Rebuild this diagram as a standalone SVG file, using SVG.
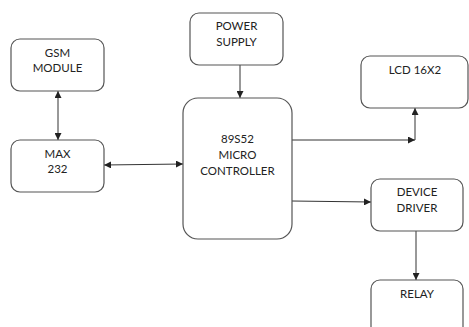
<svg xmlns="http://www.w3.org/2000/svg" width="469" height="327" viewBox="0 0 469 327">
<style>
.box{fill:#fff;stroke:#555;stroke-width:1.2}
.t{font-family:Lato,"Open Sans","Liberation Sans",sans-serif;font-size:11.5px;fill:#222;text-anchor:middle}
.c{fill:none;stroke:#333;stroke-width:1}
</style>
<defs>
<marker id="ah" viewBox="0 0 10 10" refX="10" refY="5" markerWidth="7" markerHeight="7" orient="auto-start-reverse" markerUnits="userSpaceOnUse">
<path d="M0,0 L10,5 L0,10 z" fill="#222"/>
</marker>
</defs>
<rect width="469" height="327" fill="#fff"/>
<g id="connectors">
<line class="c" x1="58" y1="91" x2="58" y2="140" marker-start="url(#ah)" marker-end="url(#ah)"/>
<line class="c" x1="104" y1="165" x2="183" y2="164" marker-start="url(#ah)" marker-end="url(#ah)"/>
<line class="c" x1="240" y1="65" x2="240" y2="98" marker-end="url(#ah)"/>
<line class="c" x1="292" y1="140" x2="415" y2="140" marker-end="url(#ah)"/>
<line class="c" x1="415" y1="140" x2="415" y2="108" marker-end="url(#ah)"/>
<line class="c" x1="292" y1="201" x2="371" y2="202" marker-end="url(#ah)"/>
<line class="c" x1="416" y1="231" x2="416" y2="280" marker-end="url(#ah)"/>
</g>
<g id="gsm">
<rect class="box" x="11" y="39" width="93" height="52" rx="9"/>
<text class="t" x="57.5" y="56.5">GSM</text>
<text class="t" x="57.5" y="72">MODULE</text>
</g>
<g id="max232">
<rect class="box" x="11" y="140" width="93" height="52" rx="9"/>
<text class="t" x="57.5" y="157.5">MAX</text>
<text class="t" x="57.5" y="173">232</text>
</g>
<g id="power">
<rect class="box" x="190" y="13" width="93" height="52" rx="9"/>
<text class="t" x="236.5" y="30">POWER</text>
<text class="t" x="236.5" y="46">SUPPLY</text>
</g>
<g id="micro">
<rect class="box" x="183" y="98" width="109" height="141" rx="15"/>
<text class="t" x="237.5" y="143">89S52</text>
<text class="t" x="237.5" y="159">MICRO</text>
<text class="t" x="237.5" y="175">CONTROLLER</text>
</g>
<g id="lcd">
<rect class="box" x="361" y="56" width="107" height="52" rx="9"/>
<text class="t" x="415" y="74">LCD 16X2</text>
</g>
<g id="driver">
<rect class="box" x="371" y="179" width="92" height="52" rx="9"/>
<text class="t" x="417" y="196">DEVICE</text>
<text class="t" x="417" y="211.5">DRIVER</text>
</g>
<g id="relay">
<rect class="box" x="371" y="280" width="92" height="60" rx="9"/>
<text class="t" x="417" y="298">RELAY</text>
</g>
</svg>
